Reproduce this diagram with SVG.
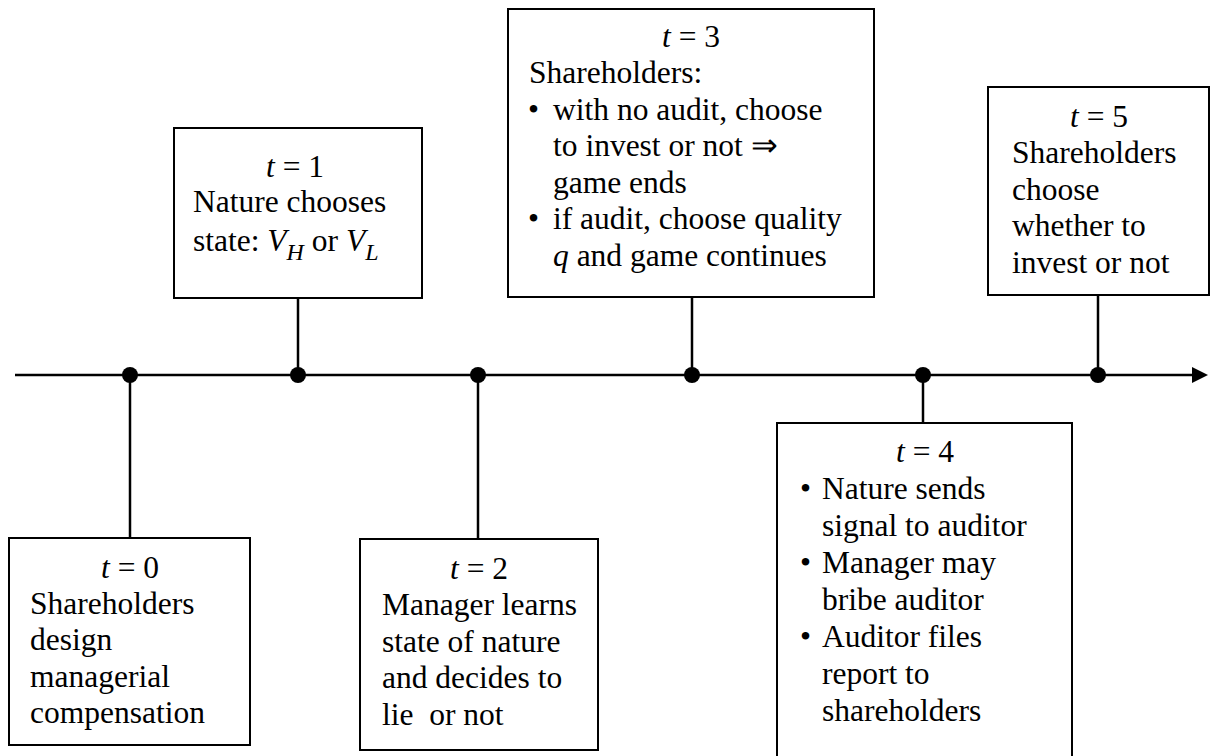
<svg xmlns="http://www.w3.org/2000/svg" width="1212" height="756" viewBox="0 0 1212 756">
<style>
.box{fill:#fff;stroke:#000;stroke-width:2}
.tx{font-family:"Liberation Serif","Times New Roman",serif;font-size:31.5px;fill:#000}
.c{text-anchor:middle}
.it{font-style:italic}
.sub{font-style:italic;font-size:24px}
.ln{stroke:#000;stroke-width:2.5;fill:none}
.dot{fill:#000}
</style>
<rect width="1212" height="756" fill="#fff"/>
<g id="timeline">
<line class="ln" x1="15" y1="375" x2="1195" y2="375"/>
<polygon points="1192,367 1208,375 1192,383" fill="#000"/>
</g>
<g id="connectors">
<line class="ln" x1="130" y1="375" x2="130" y2="540"/>
<line class="ln" x1="298" y1="298" x2="298" y2="375"/>
<line class="ln" x1="478" y1="375" x2="478" y2="540"/>
<line class="ln" x1="692" y1="297" x2="692" y2="375"/>
<line class="ln" x1="923" y1="375" x2="923" y2="432"/>
<line class="ln" x1="1098" y1="295" x2="1098" y2="375"/>
<circle class="dot" cx="130" cy="375" r="8"/>
<circle class="dot" cx="298" cy="375" r="8"/>
<circle class="dot" cx="478" cy="375" r="8"/>
<circle class="dot" cx="692" cy="375" r="8"/>
<circle class="dot" cx="923" cy="375" r="8"/>
<circle class="dot" cx="1098" cy="375" r="8"/>
</g>
<g id="node-t0">
<rect class="box" x="9" y="538" width="241" height="207"/>
<text class="tx c" x="130" y="578"><tspan class="it">t</tspan> = 0</text>
<text class="tx" x="30" y="614">Shareholders</text>
<text class="tx" x="30" y="650">design</text>
<text class="tx" x="30" y="687">managerial</text>
<text class="tx" x="30" y="723">compensation</text>
</g>
<g id="node-t1">
<rect class="box" x="174" y="128" width="248" height="170"/>
<text class="tx c" x="295" y="177"><tspan class="it">t</tspan> = 1</text>
<text class="tx" x="193" y="212">Nature chooses</text>
<text class="tx" x="193" y="251">state: <tspan class="it">V</tspan><tspan class="sub" dy="9">H</tspan><tspan dy="-9"> or </tspan><tspan class="it">V</tspan><tspan class="sub" dy="9">L</tspan></text>
</g>
<g id="node-t2">
<rect class="box" x="360" y="539" width="238" height="211"/>
<text class="tx c" x="479" y="579"><tspan class="it">t</tspan> = 2</text>
<text class="tx" x="382" y="615">Manager learns</text>
<text class="tx" x="382" y="652">state of nature</text>
<text class="tx" x="382" y="688">and decides to</text>
<text class="tx" x="382" y="725" xml:space="preserve">lie  or not</text>
</g>
<g id="node-t3">
<rect class="box" x="508" y="9" width="366" height="288"/>
<text class="tx c" x="691" y="47"><tspan class="it">t</tspan> = 3</text>
<text class="tx" x="529" y="83">Shareholders:</text>
<text class="tx" x="528" y="120">•</text>
<text class="tx" x="553" y="120">with no audit, choose</text>
<text class="tx" x="553" y="156">to invest or not ⇒</text>
<text class="tx" x="553" y="193">game ends</text>
<text class="tx" x="528" y="229">•</text>
<text class="tx" x="553" y="229">if audit, choose quality</text>
<text class="tx" x="553" y="266"><tspan class="it">q</tspan> and game continues</text>
</g>
<g id="node-t4">
<rect class="box" x="777" y="423" width="295" height="340"/>
<text class="tx c" x="925" y="462"><tspan class="it">t</tspan> = 4</text>
<text class="tx" x="800" y="499">•</text>
<text class="tx" x="822" y="499">Nature sends</text>
<text class="tx" x="822" y="536">signal to auditor</text>
<text class="tx" x="800" y="573">•</text>
<text class="tx" x="822" y="573">Manager may</text>
<text class="tx" x="822" y="610">bribe auditor</text>
<text class="tx" x="800" y="647">•</text>
<text class="tx" x="822" y="647">Auditor files</text>
<text class="tx" x="822" y="684">report to</text>
<text class="tx" x="822" y="721">shareholders</text>
</g>
<g id="node-t5">
<rect class="box" x="988" y="87" width="221" height="208"/>
<text class="tx c" x="1099" y="127"><tspan class="it">t</tspan> = 5</text>
<text class="tx" x="1012" y="163">Shareholders</text>
<text class="tx" x="1012" y="200">choose</text>
<text class="tx" x="1012" y="236">whether to</text>
<text class="tx" x="1012" y="273">invest or not</text>
</g>
</svg>
